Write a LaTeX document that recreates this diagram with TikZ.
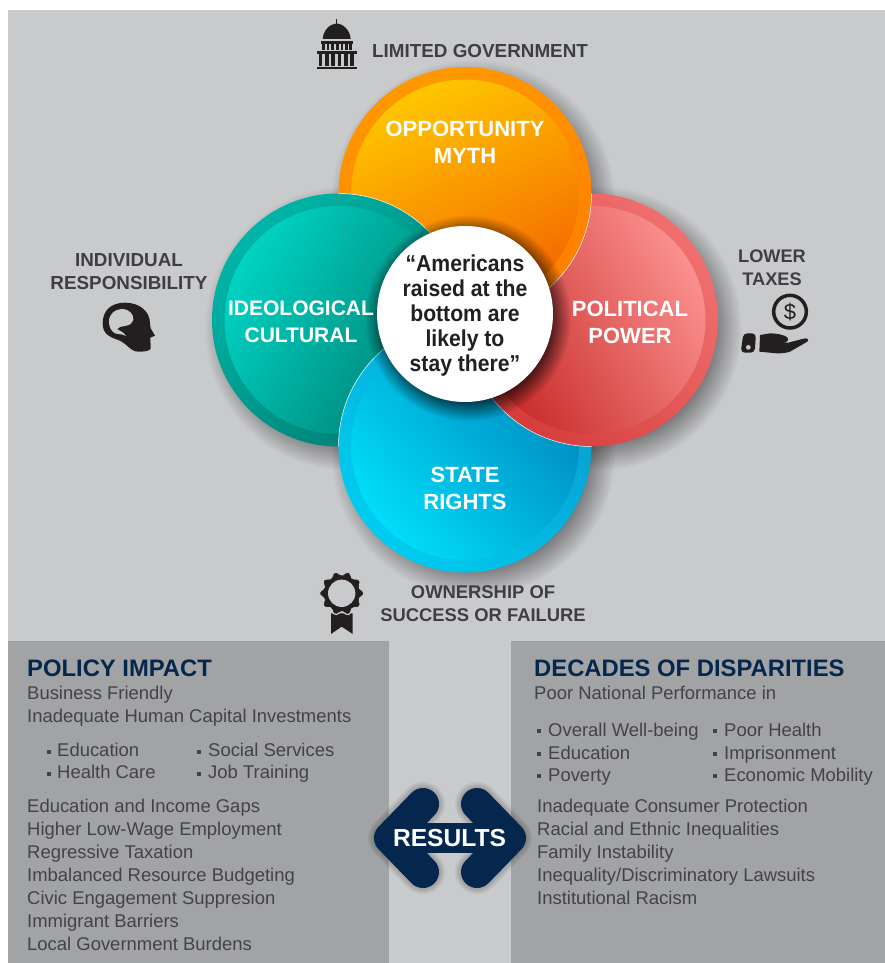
\documentclass[tikz,border=0pt]{standalone}
\usepackage{fontspec}
\setmainfont{Liberation Sans}
\newfontfamily\quotefont{Liberation Sans}[FakeStretch=0.92]
\usepackage{xcolor}
\usetikzlibrary{fadings, positioning, calc}
\definecolor{bggray}{HTML}{C9CACC}
\definecolor{panelgray}{HTML}{A2A3A5}
\definecolor{iconblack}{HTML}{231F20}
\definecolor{labelgray}{HTML}{3F3F41}
\definecolor{bodygray}{HTML}{434346}
\definecolor{navy}{HTML}{05264D}
\definecolor{orangeA}{HTML}{FFC600}
\definecolor{orangeB}{HTML}{FF9F00}
\definecolor{orangeC}{HTML}{F46800}
\definecolor{orangeD}{HTML}{FF9800}
\definecolor{orangeE}{HTML}{FF7E00}
\definecolor{redA}{HTML}{FA908E}
\definecolor{redB}{HTML}{C82C2A}
\definecolor{redC}{HTML}{F0706F}
\definecolor{redD}{HTML}{D43C3A}
\definecolor{tealA}{HTML}{00D3C3}
\definecolor{tealB}{HTML}{007F72}
\definecolor{tealC}{HTML}{00B5A8}
\definecolor{tealD}{HTML}{007C70}
\definecolor{blueA}{HTML}{0086BE}
\definecolor{blueB}{HTML}{00DDF8}
\definecolor{blueC}{HTML}{0A9CCF}
\definecolor{blueD}{HTML}{00CCEF}
\tikzset{
	shadowdisc/.style={black, opacity=0.4, path fading=circle with fuzzy edge 20 percent},
	orangerim/.style={top color=orangeD, bottom color=orangeE, shading angle=20},
	orangecore/.style={top color=orangeA, middle color=orangeB, bottom color=orangeC, shading angle=25},
	redrim/.style={top color=redC, bottom color=redD, shading angle=-50},
	redcore/.style={top color=redA, bottom color=redB, shading angle=-60},
	tealrim/.style={top color=tealC, bottom color=tealD, shading angle=45},
	tealcore/.style={top color=tealA, bottom color=tealB, shading angle=60},
	bluerim/.style={top color=blueC, bottom color=blueD, shading angle=-45},
	bluecore/.style={top color=blueA, bottom color=blueB, shading angle=-50},
	petaltext/.style={text=white, font=\fontsize{22}{27}\selectfont\bfseries, align=center},
	sidelabel/.style={text=labelgray, font=\fontsize{18.85}{23}\selectfont\bfseries, align=center},
	headtext/.style={text=navy, font=\fontsize{23.8}{24}\selectfont\bfseries, anchor=base west, inner sep=0pt},
	bodytext/.style={text=bodygray, font=\fontsize{18.45}{18}\selectfont, anchor=base west, inner sep=0pt},
	bulletdot/.style={fill=bodygray, minimum size=3.5pt, inner sep=0pt, shape=rectangle},
	arrowline/.style={line width=32pt, line cap=round, line join=round}
}
\begin{document}
\begin{tikzpicture}[x=1pt, y=-1pt]
	\useasboundingbox (0,0) rectangle (885,963);

	\coordinate (A) at (465,193.5);
	\coordinate (B) at (591.5,320);
	\coordinate (C) at (465,446);
	\coordinate (D) at (338.5,320);
	\coordinate (E) at (465,314);

	\fill [bggray] (8,10) rectangle (885,963);
	\fill [panelgray] (8,641) rectangle (389,963);
	\fill [panelgray] (511,641) rectangle (885,963);

	\fill [shadowdisc] ($(A)+(8,8)$) circle [radius=142];
	\fill [shadowdisc] ($(B)+(8,8)$) circle [radius=142];
	\fill [shadowdisc] ($(C)+(8,8)$) circle [radius=142];
	\fill [shadowdisc] ($(D)+(8,8)$) circle [radius=142];

	\shade [tealrim] (D) circle [radius=126.5];
	\shade [tealcore] (D) circle [radius=114];

	\shade [bluerim] (C) circle [radius=126.5];
	\shade [bluecore] (C) circle [radius=114];
	\begin{scope}
		\clip (D) circle [radius=126.5];
		\draw [white, line width=0.5pt] (C) circle [radius=126.5];
	\end{scope}

	\shade [redrim] (B) circle [radius=126.5];
	\shade [redcore] (B) circle [radius=114];
	\begin{scope}
		\clip (C) circle [radius=126.5];
		\draw [white, line width=0.5pt] (B) circle [radius=126.5];
	\end{scope}

	\shade [orangerim] (A) circle [radius=126.5];
	\shade [orangecore] (A) circle [radius=114];
	\begin{scope}
		\clip (B) circle [radius=126.5];
		\draw [white, line width=0.5pt] (A) circle [radius=126.5];
	\end{scope}

	\begin{scope}
		\clip (A) circle [radius=126.5];
		\shade [tealrim] (D) circle [radius=126.5];
		\shade [tealcore] (D) circle [radius=114];
		\draw [white, line width=0.5pt] (D) circle [radius=126.5];
	\end{scope}

	\fill [black, opacity=0.65, path fading=circle with fuzzy edge 20 percent] ($(E)+(3,4)$) circle [radius=103];
	\fill [white] (E) circle [radius=88];

	\node [text=iconblack, font=\quotefont\fontsize{23}{25}\selectfont\bfseries, align=center] (quote) at (465,315.5) {“Americans\\raised at the\\bottom are\\likely to\\stay there”};
	\node [petaltext] (opportunity) at (465,142.5) {OPPORTUNITY\\MYTH};
	\node [petaltext] (political) at (630,322) {POLITICAL\\POWER};
	\node [petaltext, font=\fontsize{21}{27}\selectfont\bfseries] (ideological) at (301,322) {IDEOLOGICAL\\CULTURAL};
	\node [petaltext] (state) at (465,488.5) {STATE\\RIGHTS};

	\node [sidelabel, anchor=base west, inner sep=0pt] (limited) at (372,58) {LIMITED GOVERNMENT};
	\node [sidelabel] (individual) at (129,272) {INDIVIDUAL\\RESPONSIBILITY};
	\node [sidelabel, font=\fontsize{18.2}{23}\selectfont\bfseries] (lower) at (772,268) {LOWER\\TAXES};
	\node [sidelabel, font=\fontsize{18.4}{23}\selectfont\bfseries] (ownership) at (483,604) {OWNERSHIP OF\\SUCCESS OR FAILURE};

	\begin{scope}[shift={(300,0)}, scale=1/3]
		\fill [iconblack] (68,117) .. controls (70,90) and (90,72) .. (110,70) .. controls (130,72) and (150,90) .. (152,117) -- cycle;
		\fill [iconblack] (108,58) rectangle (111,72);
		\fill [iconblack] (62,123) rectangle (158,131);
		\fill [iconblack] (66,131) rectangle (74,150);
		\fill [iconblack] (80,131) rectangle (88,150);
		\fill [iconblack] (94,131) rectangle (102,150);
		\fill [iconblack] (108,131) rectangle (116,150);
		\fill [iconblack] (122,131) rectangle (130,150);
		\fill [iconblack] (136,131) rectangle (144,150);
		\fill [iconblack] (148,131) rectangle (155,150);
		\fill [iconblack] (50,153) rectangle (170,161);
		\fill [iconblack] (56,161) rectangle (67,198);
		\fill [iconblack] (75,161) rectangle (86,198);
		\fill [iconblack] (94,161) rectangle (105,198);
		\fill [iconblack] (113,161) rectangle (124,198);
		\fill [iconblack] (132,161) rectangle (143,198);
		\fill [iconblack] (151,161) rectangle (163,198);
		\fill [iconblack] (50,200) rectangle (170,207);
	\end{scope}

	\begin{scope}[shift={(40,240)}, scale=1/3]
		\fill [iconblack] (188,250) .. controls (188,210) and (215,188) .. (255,188) .. controls (300,188) and (330,215) .. (330,250) -- (332,265) -- (345,287) -- (331,293) -- (332,325) .. controls (330,333) and (315,335) .. (295,335) .. controls (270,335) and (262,310) .. (235,300) .. controls (205,290) and (188,280) .. (188,250) -- cycle;
		\fill [bggray] (207,245) .. controls (207,222) and (225,207) .. (245,207) .. controls (270,207) and (282,225) .. (280,240) .. controls (278,250) and (270,255) .. (255,258) .. controls (245,258) and (235,262) .. (232,268) .. controls (242,272) and (252,278) .. (258,288) .. controls (245,280) and (235,285) .. (225,280) .. controls (212,272) and (207,260) .. (207,245) -- cycle;
	\end{scope}

	\begin{scope}[shift={(720,240)}, scale=1/3]
		\draw [iconblack, line width=3.5pt] (210,215) circle [radius=49];
		\fill [iconblack, rounded corners=4pt] (70,280) -- (108,280) -- (104,338) -- (62,338) -- cycle;
		\fill [bggray] (85,322) circle [radius=7];
		\fill [iconblack] (120,285) -- (150,280) .. controls (170,280) and (185,284) .. (195,288) .. controls (205,292) and (207,300) .. (200,305) -- (190,308) -- (205,308) -- (250,296) .. controls (262,293) and (268,298) .. (262,305) -- (210,335) .. controls (195,340) and (180,340) .. (170,340) -- (118,335) -- cycle;
	\end{scope}
	\node [text=iconblack, font=\fontsize{22}{22}\selectfont, inner sep=0pt] (dollar) at (790,312) {\$};

	\begin{scope}[shift={(300,560)}, scale=1/3]
		\fill [iconblack] (93,160) -- (158,160) -- (158,222) -- (125,200) -- (93,222) -- cycle;
	\end{scope}
	\begin{scope}[shift={(341.7,593.3)}, scale=1/3]
		\fill [iconblack, draw=bggray, line width=1.2pt] plot [smooth cycle, domain=0:352, samples=45] (\x: {61+6*cos(10*\x)});
		\fill [bggray] (0,0) circle [radius=41];
	\end{scope}

	\node [headtext] (policy) at (27,676) {POLICY IMPACT};
	\node [bodytext] (business) at (27,699) {Business Friendly};
	\node [bodytext] (human) at (27,722) {Inadequate Human Capital Investments};
	\node [bulletdot] (d1) at (49,752) {};
	\node [bodytext] (edu) at (57,756) {Education};
	\node [bulletdot] (d2) at (49,774) {};
	\node [bodytext] (health) at (57,778) {Health Care};
	\node [bulletdot] (d3) at (199,752) {};
	\node [bodytext] (social) at (208,756) {Social Services};
	\node [bulletdot] (d4) at (199,774) {};
	\node [bodytext] (job) at (208,778) {Job Training};
	\node [bodytext] (gaps) at (27,812) {Education and Income Gaps};
	\node [bodytext] (wage) at (27,835) {Higher Low-Wage Employment};
	\node [bodytext] (tax) at (27,858) {Regressive Taxation};
	\node [bodytext] (budget) at (27,881) {Imbalanced Resource Budgeting};
	\node [bodytext] (civic) at (27,904) {Civic Engagement Suppresion};
	\node [bodytext] (immigrant) at (27,927) {Immigrant Barriers};
	\node [bodytext] (local) at (27,950) {Local Government Burdens};

	\node [headtext] (decades) at (534,676) {DECADES OF DISPARITIES};
	\node [bodytext] (national) at (534,699) {Poor National Performance in};
	\node [bulletdot] (d5) at (539,731) {};
	\node [bodytext] (overall) at (548,736) {Overall Well-being};
	\node [bulletdot] (d6) at (539,754) {};
	\node [bodytext] (edutwo) at (548,759) {Education};
	\node [bulletdot] (d7) at (539,776) {};
	\node [bodytext] (poverty) at (548,781) {Poverty};
	\node [bulletdot] (d8) at (715,731) {};
	\node [bodytext] (poor) at (724,736) {Poor Health};
	\node [bulletdot] (d9) at (715,754) {};
	\node [bodytext] (prison) at (724,759) {Imprisonment};
	\node [bulletdot] (d10) at (715,776) {};
	\node [bodytext] (mobility) at (724,781) {Economic Mobility};
	\node [bodytext] (consumer) at (537,812) {Inadequate Consumer Protection};
	\node [bodytext] (racial) at (537,835) {Racial and Ethnic Inequalities};
	\node [bodytext] (family) at (537,858) {Family Instability};
	\node [bodytext] (lawsuits) at (537,881) {Inequality/Discriminatory Lawsuits};
	\node [bodytext] (racism) at (537,904) {Institutional Racism};

	\coordinate (P) at (423,804);
	\coordinate (Q) at (390,838);
	\coordinate (R) at (423,872);
	\coordinate (S) at (477,804);
	\coordinate (T) at (510,838);
	\coordinate (U) at (477,872);

	\foreach \w in {44,41,38,35} {
		\draw [arrowline, black, opacity=0.05, line width=\w pt] (P) -- (Q) -- (R);
		\draw [arrowline, black, opacity=0.05, line width=\w pt] (S) -- (T) -- (U);
	}
	\draw [arrowline, navy] (P) -- (Q) -- (R);
	\draw [arrowline, navy] (S) -- (T) -- (U);
	\draw [navy, line width=30pt] (Q) -- (T);
	\node [text=white, font=\fontsize{24.6}{25}\selectfont\bfseries] (results) at (449.5,838) {RESULTS};
\end{tikzpicture}
\end{document}
